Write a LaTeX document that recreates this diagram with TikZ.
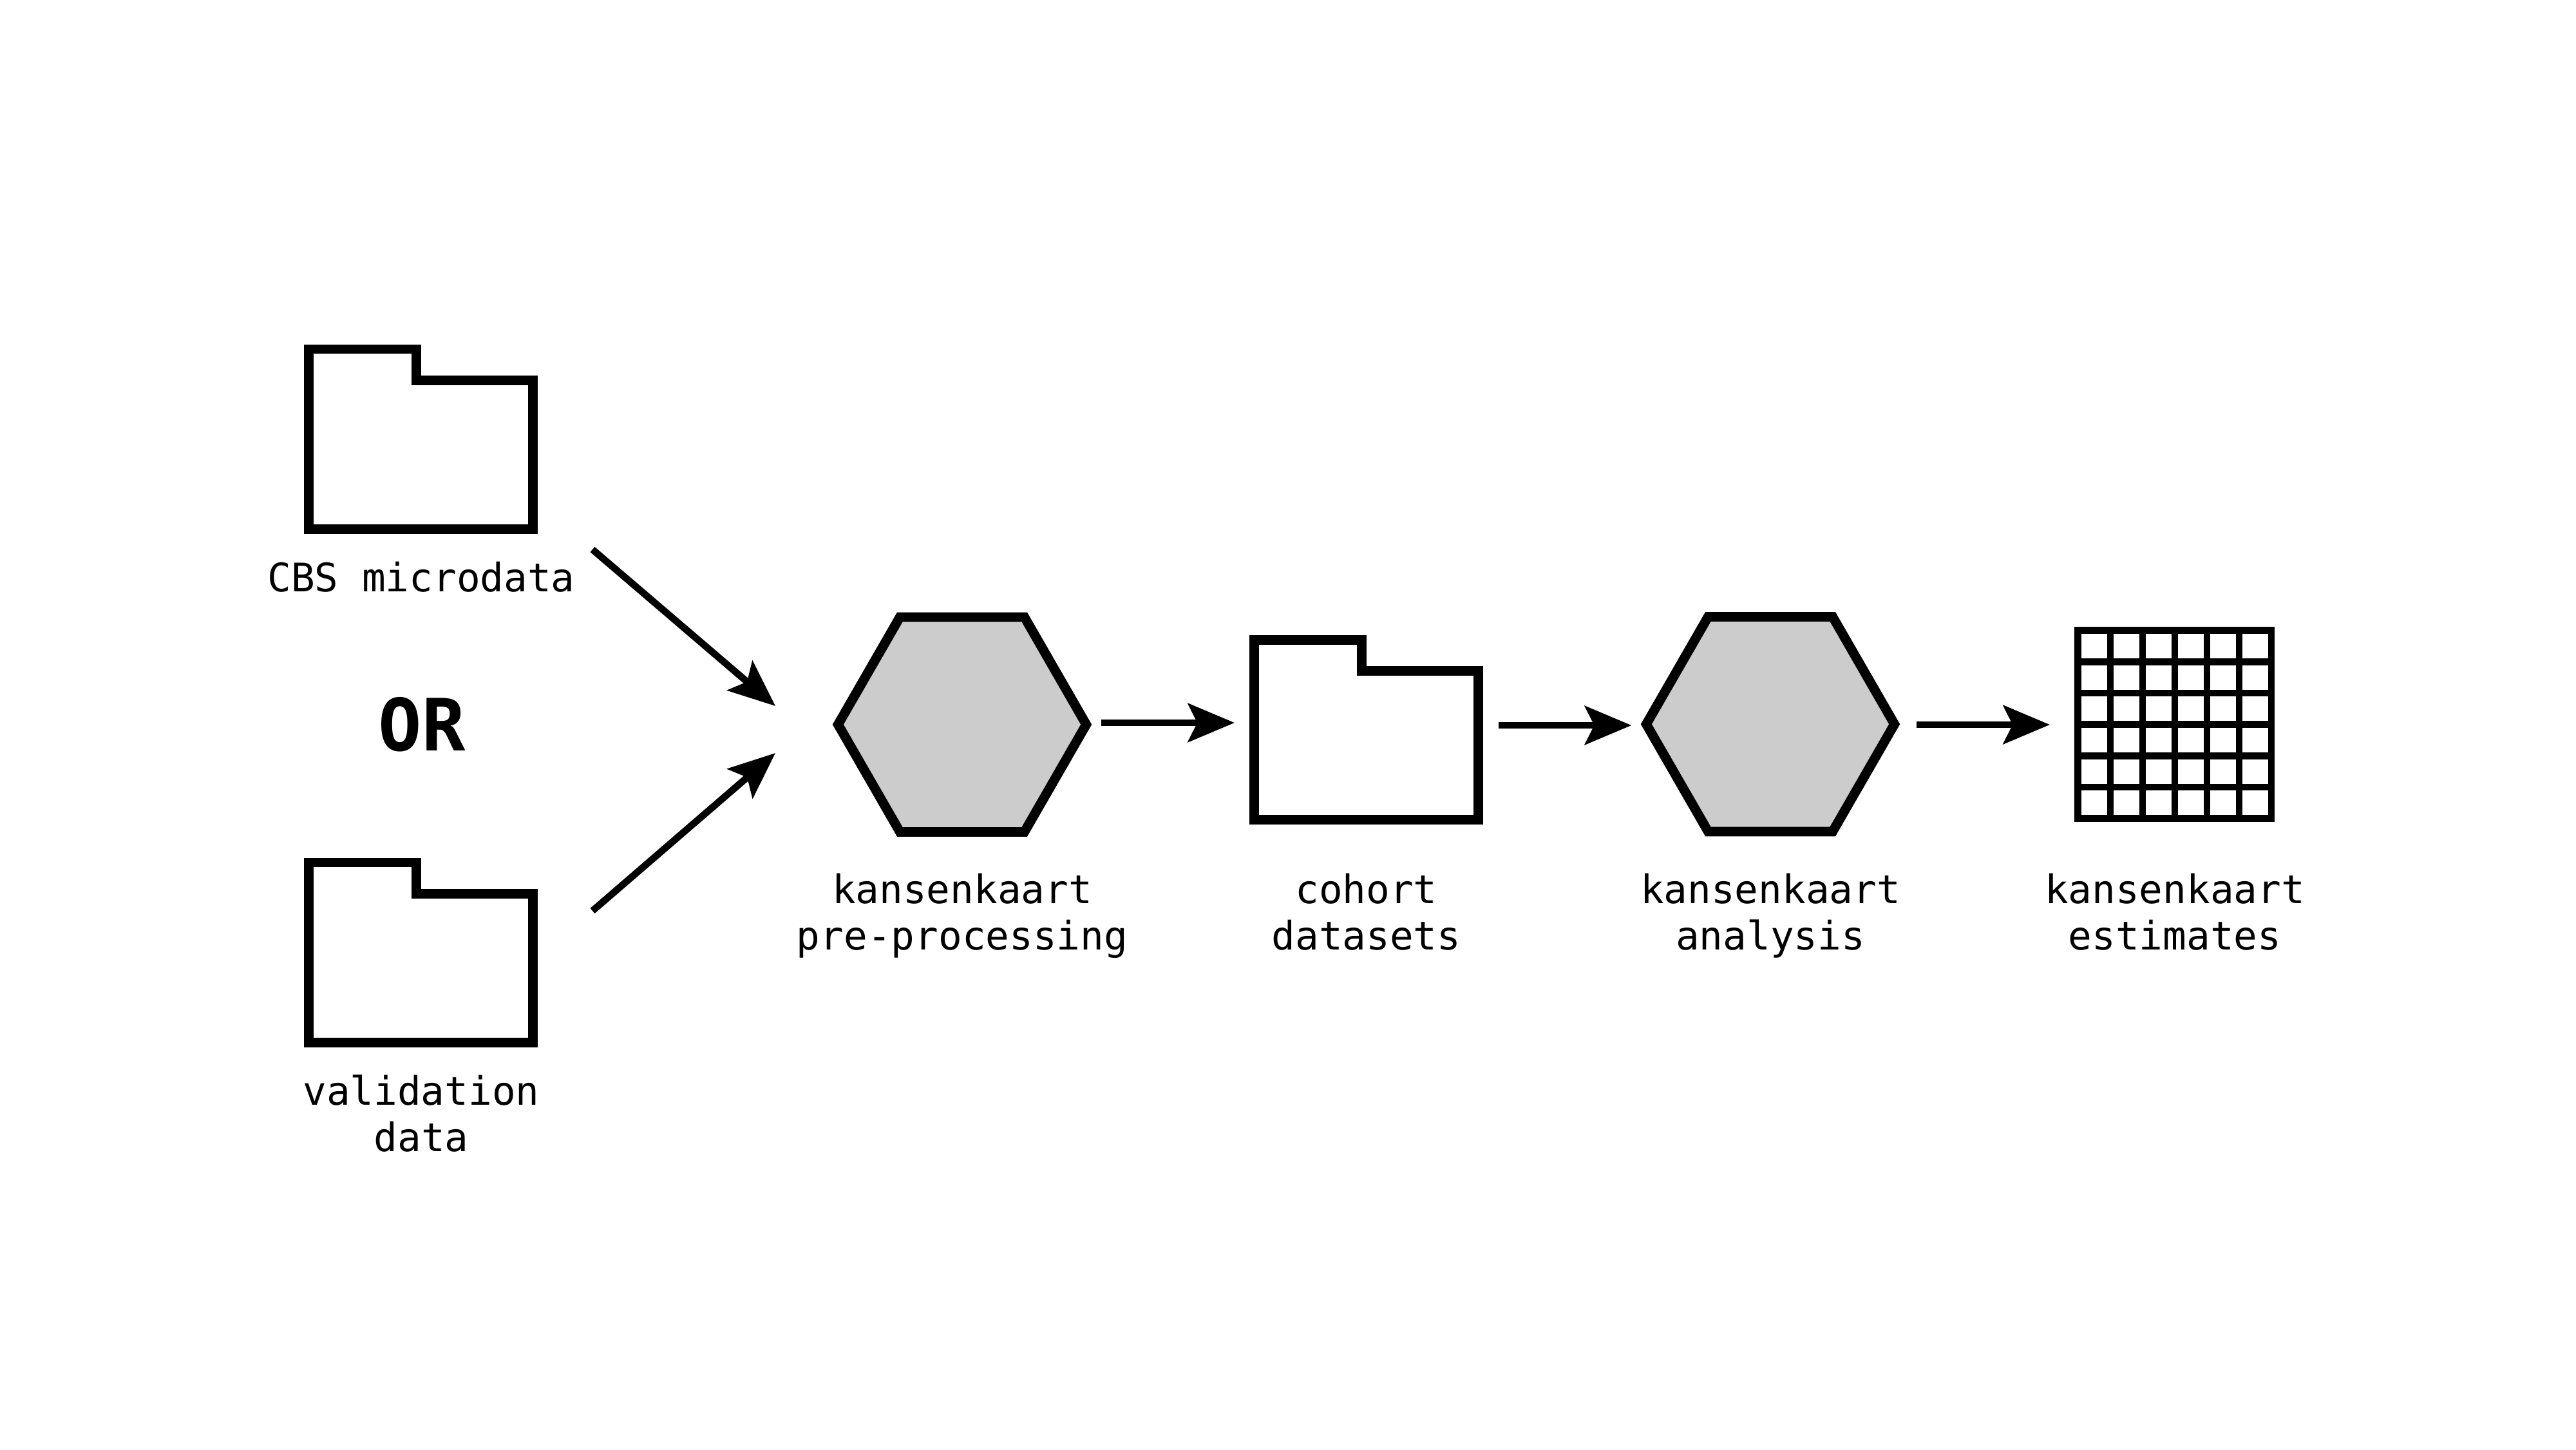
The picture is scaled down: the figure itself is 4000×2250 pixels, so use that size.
\documentclass[tikz,border=0pt]{standalone}
\usepackage{fontspec}
\setmonofont{DejaVu Sans Mono}
\usetikzlibrary{arrows.meta}
\tikzset{
  shapeline/.style={draw=black,line width=3.7pt,miter limit=10},
  proc/.style={shapeline,fill=procgrey},
  flow/.style={draw=black,line width=2.68pt,-{Stealth[length=18.1pt,width=15pt,inset=3.65pt]}},
  gridline/.style={draw=black,line width=2.68pt},
  lab/.style={font=\ttfamily\fontsize{15.25pt}{18pt}\selectfont,align=center,anchor=base,inner sep=0pt,text=black},
  orlab/.style={font=\ttfamily\bfseries\fontsize{28pt}{32pt}\selectfont,anchor=base,inner sep=0pt,text=black}
}
\definecolor{procgrey}{HTML}{CCCCCC}
\newcommand{\folderat}[2]{%
  \draw[shapeline] (#1,#2) -- ++(167,0) -- ++(0,48.6) -- ++(181.1,0) -- ++(0,231) -- ++(-348.1,0) -- cycle;}
\newcommand{\hexat}[2]{%
  \draw[proc] (#1-192.7,#2) -- (#1-96.7,#2-166.7) -- (#1+96.7,#2-166.7) -- (#1+192.7,#2) -- (#1+96.7,#2+166.7) -- (#1-96.7,#2+166.7) -- cycle;}
\begin{document}
\begin{tikzpicture}[x=0.25pt,y=-0.25pt]
\useasboundingbox[fill=white] (0,0) rectangle (4000,2250);
% folders
\folderat{479.7}{542}
\folderat{479.7}{1339}
\folderat{1947.4}{993.1}
% hexagons
\hexat{1494}{1124.7}
\hexat{2749}{1124.2}
% grid
\foreach \i in {0,...,6} {
  \draw[gridline] ({3226.8+50.03*\i},973) -- ({3226.8+50.03*\i},1276);
  \draw[gridline] (3221.4,{978.4+48.72*\i}) -- (3532.4,{978.4+48.72*\i});
}
% labels
\node[lab] (cbs) at (654,918) {CBS microdata};
\node[orlab] (or) at (655,1165) {OR};
\node[lab] (val) at (654,1787.5) {validation\\data};
\node[lab] (pre) at (1494,1474.5) {kansenkaart\\pre-processing};
\node[lab] (coh) at (2121.5,1474.5) {cohort\\datasets};
\node[lab] (ana) at (2749,1474.5) {kansenkaart\\analysis};
\node[lab] (est) at (3377,1474.5) {kansenkaart\\estimates};
% connector ends
\coordinate (a1s) at (920,853);
\coordinate (a1e) at (1204,1096);
\coordinate (a2s) at (920,1414);
\coordinate (a2e) at (1204,1169);
\coordinate (a3s) at (1710,1122);
\coordinate (a3e) at (1917,1122);
\coordinate (a4s) at (2327,1126);
\coordinate (a4e) at (2533.3,1126);
\coordinate (a5s) at (2976,1125);
\coordinate (a5e) at (3183,1125);
\draw[flow] (a1s) -- (a1e);
\draw[flow] (a2s) -- (a2e);
\draw[flow] (a3s) -- (a3e);
\draw[flow] (a4s) -- (a4e);
\draw[flow] (a5s) -- (a5e);
\end{tikzpicture}
\end{document}
